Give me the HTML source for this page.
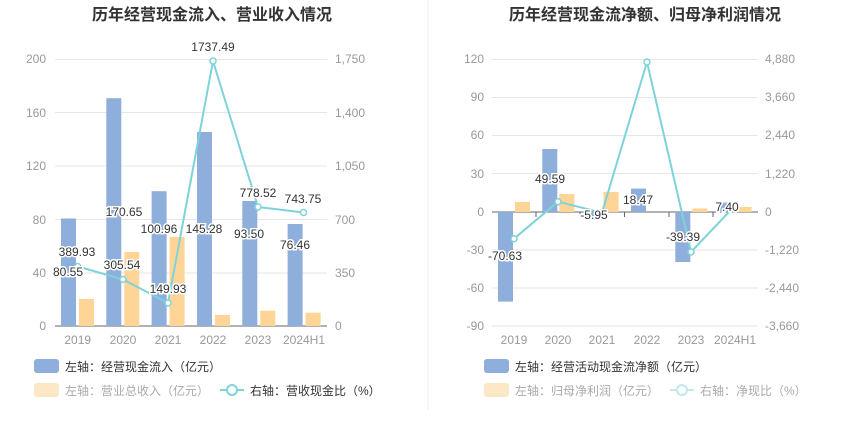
<!DOCTYPE html>
<html><head><meta charset="utf-8"><style>
body{margin:0;background:#fff;}
svg{display:block;font-family:"Liberation Sans","Noto Sans CJK SC",sans-serif;}
.ax{fill:#999;font-size:12px;}
.lb{fill:#333;font-size:12px;stroke:#fff;stroke-width:3px;paint-order:stroke;}
.lg{font-size:12px;}
</style></head><body>
<svg width="850" height="437" viewBox="0 0 850 437">
<line x1="428" y1="0" x2="428" y2="410" stroke="#eee"/>
<text x="212" y="20" text-anchor="middle" font-size="16" font-weight="bold" fill="#333">历年经营现金流入、营业收入情况</text>
<text x="645" y="20" text-anchor="middle" font-size="16" font-weight="bold" fill="#333">历年经营现金流净额、归母净利润情况</text>

<!-- LEFT CHART -->
<g stroke="#e6e6e6">
<line x1="55" x2="327" y1="59.5" y2="59.5"/><line x1="55" x2="327" y1="112.5" y2="112.5"/>
<line x1="55" x2="327" y1="166" y2="166"/><line x1="55" x2="327" y1="219.5" y2="219.5"/>
<line x1="55" x2="327" y1="273" y2="273"/>
</g>
<line x1="55" x2="327" y1="326" y2="326" stroke="#666"/>
<g class="ax" text-anchor="end">
<text x="46" y="63">200</text><text x="46" y="117">160</text><text x="46" y="170">120</text><text x="46" y="224">80</text><text x="46" y="277">40</text><text x="46" y="330">0</text>
</g>
<g class="ax" text-anchor="start">
<text x="335" y="63">1,750</text><text x="335" y="117">1,400</text><text x="335" y="170">1,050</text><text x="335" y="224">700</text><text x="335" y="277">350</text><text x="335" y="330">0</text>
</g>
<g class="ax" text-anchor="middle">
<text x="77.7" y="344">2019</text><text x="123" y="344">2020</text><text x="168" y="344">2021</text><text x="213" y="344">2022</text><text x="258" y="344">2023</text><text x="304" y="344">2024H1</text>
</g>
<g fill="#8eaedc">
<rect x="61" y="218.5" width="15" height="107.5"/>
<rect x="106.3" y="98.2" width="15" height="227.8"/>
<rect x="151.6" y="191.2" width="15" height="134.8"/>
<rect x="197" y="132" width="15" height="194"/>
<rect x="242.3" y="201" width="15" height="125"/>
<rect x="287.6" y="224" width="15" height="102"/>
</g>
<g fill="#fed597">
<rect x="79" y="299" width="15" height="27"/>
<rect x="124.3" y="252" width="15" height="74"/>
<rect x="169.6" y="237" width="15" height="89"/>
<rect x="215" y="315" width="15" height="11"/>
<rect x="260.3" y="310.7" width="15" height="15.3"/>
<rect x="305.6" y="312.7" width="15" height="13.3"/>
</g>
<polyline points="77.7,266.5 123,279.4 168,303 213,61 258,207 303.5,212.5" fill="none" stroke="#7ed3d8" stroke-width="2"/>
<g fill="#fff" stroke="#7ed3d8" stroke-width="1.5">
<circle cx="77.7" cy="266.5" r="3"/><circle cx="123" cy="279.4" r="3"/><circle cx="168" cy="303" r="3"/><circle cx="213" cy="61" r="3"/><circle cx="258" cy="207" r="3"/><circle cx="303.5" cy="212.5" r="3"/>
</g>
<g class="lb" text-anchor="middle">
<text x="68" y="276">80.55</text><text x="124" y="216">170.65</text><text x="159" y="233">100.96</text><text x="204" y="233">145.28</text><text x="249" y="238">93.50</text><text x="295" y="249">76.46</text>
<text x="77" y="256">389.93</text><text x="122" y="269">305.54</text><text x="168" y="293">149.93</text><text x="213" y="51">1737.49</text><text x="258" y="197">778.52</text><text x="303" y="203">743.75</text>
</g>
<rect x="34" y="359" width="25" height="14" rx="3" fill="#8eaedc"/>
<text x="65" y="371" class="lg" fill="#333">左轴：经营现金流入（亿元）</text>
<rect x="34" y="383" width="25" height="14" rx="3" fill="#fde8c5"/>
<text x="65" y="395" class="lg" fill="#aaa">左轴：营业总收入（亿元）</text>
<line x1="220" x2="244" y1="390" y2="390" stroke="#7ed3d8" stroke-width="2"/>
<circle cx="232" cy="390" r="5" fill="#fff" stroke="#7ed3d8" stroke-width="2"/>
<text x="250" y="395" class="lg" fill="#333">右轴：营收现金比（%）</text>

<!-- RIGHT CHART -->
<g stroke="#e6e6e6">
<line x1="492" x2="758" y1="59.5" y2="59.5"/><line x1="492" x2="758" y1="97.5" y2="97.5"/>
<line x1="492" x2="758" y1="135.5" y2="135.5"/><line x1="492" x2="758" y1="173.5" y2="173.5"/>
<line x1="492" x2="758" y1="250" y2="250"/><line x1="492" x2="758" y1="288" y2="288"/>
<line x1="492" x2="758" y1="326" y2="326"/>
</g>
<line x1="492" x2="758" y1="212" y2="212" stroke="#666"/>
<g stroke="#666"><line x1="536" x2="536" y1="212" y2="217"/><line x1="580" x2="580" y1="212" y2="217"/><line x1="624.5" x2="624.5" y1="212" y2="217"/><line x1="669" x2="669" y1="212" y2="217"/><line x1="713" x2="713" y1="212" y2="217"/></g>
<g class="ax" text-anchor="end">
<text x="484" y="63">120</text><text x="484" y="101">90</text><text x="484" y="139">60</text><text x="484" y="178">30</text><text x="484" y="216">0</text><text x="484" y="254">-30</text><text x="484" y="292">-60</text><text x="484" y="330">-90</text>
</g>
<g class="ax" text-anchor="start">
<text x="765" y="63">4,880</text><text x="765" y="101">3,660</text><text x="765" y="139">2,440</text><text x="765" y="178">1,220</text><text x="765" y="216">0</text><text x="765" y="254">-1,220</text><text x="765" y="292">-2,440</text><text x="765" y="330">-3,660</text>
</g>
<g class="ax" text-anchor="middle">
<text x="514" y="344">2019</text><text x="558" y="344">2020</text><text x="602" y="344">2021</text><text x="647" y="344">2022</text><text x="691" y="344">2023</text><text x="735" y="344">2024H1</text>
</g>
<g fill="#8eaedc">
<rect x="498" y="212" width="15" height="89.6"/>
<rect x="542.3" y="149" width="15" height="63"/>
<rect x="586.6" y="212" width="15" height="7.5"/>
<rect x="631" y="188.6" width="15" height="23.4"/>
<rect x="675.3" y="212" width="15" height="50"/>
<rect x="719.6" y="202.6" width="15" height="9.4"/>
</g>
<g fill="#fed597">
<rect x="515" y="202" width="15" height="10"/>
<rect x="559.3" y="194" width="15" height="18"/>
<rect x="603.6" y="192" width="15" height="20"/>
<rect x="692.3" y="208.5" width="15" height="3.5"/>
<rect x="736.6" y="207" width="15" height="5"/>
</g>
<polyline points="514,238.7 558,201.7 602,212.7 647,62 691,252 735,205.7" fill="none" stroke="#7ed3d8" stroke-width="2"/>
<g fill="#fff" stroke="#7ed3d8" stroke-width="1.5">
<circle cx="514" cy="238.7" r="3"/><circle cx="558" cy="201.7" r="3"/><circle cx="602" cy="212.7" r="3"/><circle cx="647" cy="62" r="3"/><circle cx="691" cy="252" r="3"/><circle cx="735" cy="205.7" r="3"/>
</g>
<g class="lb" text-anchor="middle">
<text x="505" y="260">-70.63</text><text x="550" y="183">49.59</text><text x="594" y="219">-5.95</text><text x="638" y="204">18.47</text><text x="683" y="241">-39.39</text><text x="727" y="211">7.40</text>
</g>
<rect x="484" y="359" width="25" height="14" rx="3" fill="#8eaedc"/>
<text x="515" y="371" class="lg" fill="#333">左轴：经营活动现金流净额（亿元）</text>
<rect x="484" y="383" width="25" height="14" rx="3" fill="#fde8c5"/>
<text x="515" y="395" class="lg" fill="#aaa">左轴：归母净利润（亿元）</text>
<line x1="670" x2="694" y1="390" y2="390" stroke="#bfe9eb" stroke-width="2"/>
<circle cx="682" cy="390" r="5" fill="#fff" stroke="#bfe9eb" stroke-width="2"/>
<text x="700" y="395" class="lg" fill="#aaa">右轴：净现比（%）</text>
</svg>
</body></html>
